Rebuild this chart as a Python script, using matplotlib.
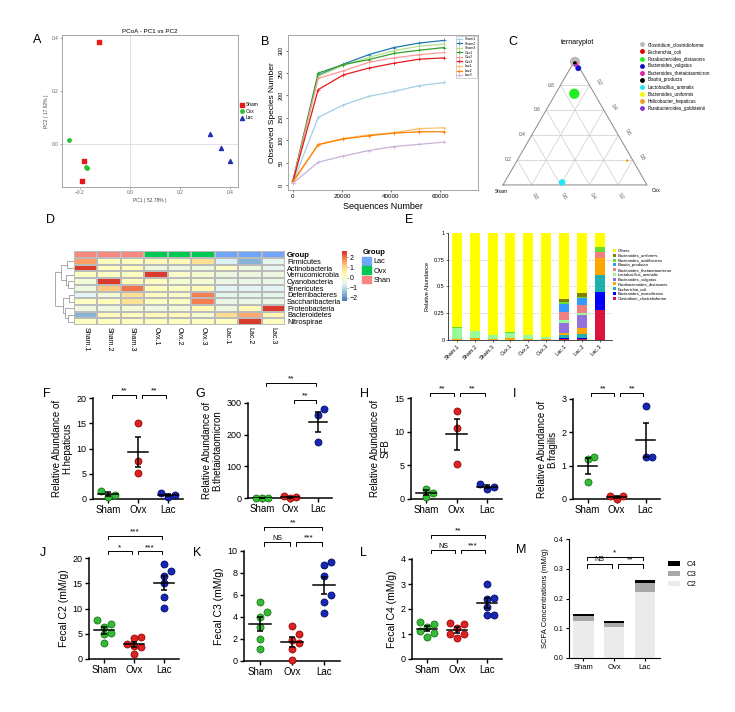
import matplotlib.pyplot as plt
import numpy as np
from matplotlib.colors import LinearSegmentedColormap, Normalize
from matplotlib.lines import Line2D
from matplotlib.patches import Patch

plt.rcParams['font.family'] = ['Liberation Sans', 'DejaVu Sans']

W, H = 735, 712

# ---------------- data ----------------
# A: PCoA
pc1_sham = [-0.124, -0.183, -0.191]
pc2_sham = [0.382, -0.064, -0.138]
pc1_ovx = [-0.242, -0.176, -0.170]
pc2_ovx = [0.015, -0.086, -0.090]
pc1_lac = [0.319, 0.362, 0.399]
pc2_lac = [0.037, -0.012, -0.064]

# B: rarefaction curves
seq_depth = [0, 10300, 20600, 30900, 41200, 51500, 61800]
rare_names = ['Sham1', 'Sham2', 'Sham3', 'Ovx1', 'Ovx2', 'Ovx3', 'Lac1', 'Lac2', 'Lac3']
rare_sham1 = [5, 151, 179, 198, 209, 222, 229]
rare_sham2 = [8, 245, 270, 291, 307, 317, 323]
rare_sham3 = [8, 243, 267, 285, 300, 310, 315]
rare_ovx1 = [10, 250, 269, 280, 294, 301, 307]
rare_ovx2 = [8, 238, 255, 274, 284, 291, 296]
rare_ovx3 = [8, 213, 246, 261, 272, 281, 284]
rare_lac1 = [5, 91, 104, 112, 117, 126, 128]
rare_lac2 = [8, 90, 103, 110, 116, 119, 119]
rare_lac3 = [4, 51, 65, 77, 86, 91, 96]

# C: ternary plot (fractions Lac / Sham / Ovx)
tern_species = ['Clostridium_clostridioforme', 'Escherichia_coli', 'Parabacteroides_distasonis',
                'Bacteroides_vulgatus', 'Bacteroides_thetaiotaomicron', 'Blautia_producta',
                'Lactobacillus_animalis', 'Bacteroides_uniformis', 'Helicobacter_hepaticus',
                'Parabacteroides_goldsteinii']
tern_lac = [0.985, 0.975, 0.73, 0.935, 0.965, 0.975, 0.02, 0.19, 0.195, 0.96]
tern_sham = [0.0075, 0.01, 0.14, 0.01, 0.01, 0.015, 0.58, 0.045, 0.04, 0.02]
tern_ovx = [0.0075, 0.015, 0.13, 0.055, 0.025, 0.01, 0.40, 0.765, 0.765, 0.02]
tern_abund = [55, 8, 55, 18, 8, 6, 22, 2, 3, 3]
tern_colors = ['#BBBBBB', '#E00000', '#22EE22', '#1010CC', '#E020A0', '#000000',
               '#22E5F0', '#F5F500', '#F0A020', '#8833CC']

# D: heatmap (z-scores)
phyla = ['Firmicutes', 'Actinobacteria', 'Verrucomicrobia', 'Cyanobacteria', 'Tenericutes',
         'Deferribacteres', 'Saccharibacteria', 'Proteobacteria', 'Bacteroidetes', 'Nitrospirae']
samples = ['Sham.1', 'Sham.2', 'Sham.3', 'Ovx.1', 'Ovx.2', 'Ovx.3', 'Lac.1', 'Lac.2', 'Lac.3']
sample_group = ['Sham', 'Sham', 'Sham', 'Ovx', 'Ovx', 'Ovx', 'Lac', 'Lac', 'Lac']
heat_z = [
    [1.6, 0.2, 0.2, 0.3, 0.3, 0.9, -0.7, -1.6, -0.5],
    [2.5, 0.2, 0.2, -0.3, -0.3, -0.3, 0.1, -0.3, -0.5],
    [0.1, 0.1, 0.1, 2.5, 0.0, -0.1, -0.3, -0.3, -0.3],
    [-0.2, 2.5, 0.2, 0.1, -0.1, -0.1, -0.4, -0.4, -0.4],
    [-0.3, 1.2, 2.0, 0.2, 0.1, 0.3, -0.6, -0.6, -0.6],
    [-0.6, -0.2, 0.9, 0.1, 0.0, 1.9, -0.5, -0.5, -0.5],
    [0.1, 0.2, 0.9, 0.1, 0.1, 1.9, -0.4, -0.4, -0.4],
    [-0.3, -0.3, -0.2, -0.3, -0.2, 0.3, -0.3, 0.3, 2.5],
    [-1.6, 0.3, 0.2, 0.3, 0.3, -0.1, 1.0, 1.5, 0.4],
    [0.1, 0.1, 0.1, 0.1, 0.1, 0.1, 0.1, 2.5, 0.2],
]
# row clustering (leaf, leaf, height)
row_tree = (((0, 1, 0.35), (2, (3, 4, 0.3), 0.45), 0.7),
            ((5, 6, 0.25), (7, (8, 9, 0.3), 0.5), 0.6), 1.0)

# E: relative abundance (bottom to top)
e_species = ['Clostridium_clostridioforme', 'Bacteroides_massiliensis', 'Escherichia_coli',
             'Parabacteroides_distasonis', 'Bacteroides_vulgatus', 'Lactobacillus_animalis',
             'Bacteroides_thetaiotaomicron', 'Blautia_producta', 'Bacteroides_acidifaciens',
             'Bacteroides_uniformis', 'Others']
e_clostridium = [0, 0, 0, 0, 0, 0, 0.01, 0.01, 0.28]
e_bmass = [0, 0, 0, 0, 0, 0, 0.01, 0.01, 0.17]
e_ecoli = [0, 0, 0, 0, 0, 0, 0.03, 0.04, 0.16]
e_parabact = [0.005, 0.02, 0.01, 0.02, 0.01, 0.005, 0.02, 0.05, 0.16]
e_bvulg = [0, 0, 0, 0, 0, 0, 0.09, 0.12, 0]
e_lacto = [0.11, 0.06, 0.035, 0.05, 0.035, 0.02, 0.03, 0.02, 0]
e_btheta = [0, 0, 0, 0, 0, 0, 0.07, 0.08, 0.05]
e_blautia = [0, 0, 0, 0, 0, 0, 0.08, 0.06, 0]
e_bacid = [0.005, 0.005, 0.005, 0.005, 0.005, 0.005, 0.015, 0.01, 0.05]
e_bunif = [0, 0, 0, 0, 0, 0, 0.025, 0.04, 0]
e_others = [0.88, 0.915, 0.95, 0.925, 0.95, 0.97, 0.62, 0.56, 0.13]
e_colors = ['#DC143C', '#0000FF', '#20B2AA', '#FFA500', '#9370DB', '#98FB98',
            '#F08080', '#3399FF', '#66DD33', '#808000', '#FFFF00']

# F-L: dot plots
groups = ['Sham', 'Ovx', 'Lac']
f_sham, f_ovx, f_lac = [1.6, 0.46, 0.8], [15.1, 7.5, 5.2], [1.25, 0.46, 0.8]
g_sham, g_ovx, g_lac = [0, 0, 0], [6, 1, 2], [281, 262, 177]
h_sham, h_ovx, h_lac = [1.5, 0.35, 0.95], [13.1, 10.5, 5.2], [2.2, 1.5, 1.8]
i_sham, i_ovx, i_lac = [1.25, 1.2, 0.5], [0.1, 0.0, 0.08], [2.8, 1.25, 1.25]
j_sham = [7.7, 6.4, 7.0, 5.1, 4.9, 3.1]
j_ovx = [4.1, 4.4, 3.0, 2.6, 2.4, 1.0]
j_lac = [18.9, 17.5, 16.5, 15.0, 12.3, 10.1]
k_sham = [5.4, 4.5, 4.0, 3.1, 2.0, 1.1]
k_ovx = [3.2, 2.5, 1.9, 1.6, 1.1, 0.1]
k_lac = [9.0, 8.7, 7.7, 6.0, 5.4, 4.4]
l_sham = [1.5, 1.4, 1.3, 1.14, 1.05, 0.88]
l_ovx = [1.41, 1.46, 1.24, 1.0, 1.0, 0.84]
l_lac = [2.99, 2.45, 2.42, 2.1, 1.77, 1.77]

# M: SCFA stacked bars
m_c2 = [0.124, 0.103, 0.223]
m_c3 = [0.018, 0.014, 0.028]
m_c4 = [0.007, 0.006, 0.011]

# ---------------- figure ----------------
fig = plt.figure(figsize=(W / 100, H / 100), dpi=100)


def box(x0, y0, x1, y1):
    return fig.add_axes([x0 / W, 1 - y1 / H, (x1 - x0) / W, (y1 - y0) / H])


def ftext(x, y, s, **kw):
    fig.text(x / W, 1 - y / H, s, **kw)


for lab, x, y in [('A', 33, 40), ('B', 261, 42), ('C', 508, 42), ('D', 46, 220), ('E', 405, 220),
                  ('F', 43, 394), ('G', 195, 394), ('H', 360, 394), ('I', 513, 394),
                  ('J', 40, 553), ('K', 193, 553), ('L', 360, 553), ('M', 516, 550)]:
    ftext(x, y, lab, fontsize=9, va='center')

# ---- A
ax = box(62, 35, 238, 187)
ax.axhline(0, color='#DDDDDD', lw=0.6, zorder=0)
ax.axvline(0, color='#DDDDDD', lw=0.6, zorder=0)
ax.scatter(pc1_sham, pc2_sham, marker='s', s=6, color='#E41A1C', label='Sham')
ax.scatter(pc1_ovx, pc2_ovx, marker='o', s=6, color='#2CC02C', label='Ovx')
ax.scatter(pc1_lac, pc2_lac, marker='^', s=8, color='#1F2FB5', label='Lac')
ax.set_xlim(-0.27, 0.43)
ax.set_ylim(-0.16, 0.41)
ax.set_xticks([-0.2, 0, 0.2, 0.4])
ax.set_yticks([0, 0.2, 0.4])
ax.xaxis.set_major_formatter('{x:.1f}')
ax.yaxis.set_major_formatter('{x:.1f}')
ax.tick_params(labelsize=3.5, colors='#666666', length=1.5, width=0.4, pad=1)
for s in ax.spines.values():
    s.set_color('#999999')
    s.set_linewidth(0.6)
ax.set_title('PCoA - PC1 vs PC2', fontsize=4.5, pad=1.5)
ax.set_xlabel('PC1 ( 52.78% )', fontsize=3.5, labelpad=2, color='#444444')
ax.set_ylabel('PC2 ( 17.92% )', fontsize=3.5, labelpad=2, color='#444444')
ax.legend(loc='center left', bbox_to_anchor=(1.0, 0.5), fontsize=3.5, frameon=False,
          handlelength=0.6, handletextpad=0.3, labelspacing=0.3, borderaxespad=0.2)

# ---- B
ax = box(288, 35, 478, 190)
rare_vals = [rare_sham1, rare_sham2, rare_sham3, rare_ovx1, rare_ovx2, rare_ovx3,
             rare_lac1, rare_lac2, rare_lac3]
pal = plt.cm.Paired(np.arange(9))
for name, vals, c in zip(rare_names, rare_vals, pal):
    ax.plot(seq_depth, vals, color=c, lw=0.9, marker='+', ms=2.5, mew=0.5, label=name)
ax.set_xlim(-2000, 75500)
ax.set_ylim(-11, 335)
ax.set_xticks([0, 20000, 40000, 60000])
ax.set_yticks(range(0, 301, 50))
ax.tick_params(labelsize=4.5, length=1.5, width=0.4, pad=1.5)
plt.setp(ax.get_yticklabels(), rotation=90, va='center', fontsize=4)
for s in ax.spines.values():
    s.set_color('#999999')
    s.set_linewidth(0.6)
ax.set_xlabel('Sequences Number', fontsize=6.5, labelpad=2)
ax.set_ylabel('Observed Species Number', fontsize=6, labelpad=2)
ax.legend(loc='upper right', fontsize=2.5, frameon=True, fancybox=False, edgecolor='#999999',
          handlelength=1.5, labelspacing=0.15, borderpad=0.3, borderaxespad=0.3).get_frame().set_linewidth(0.4)

# ---- C ternary
ax = box(488.6, 40.7, 661.4, 213.8)
ax.set_xlim(-0.1, 1.1)
ax.set_ylim(-0.2, 1.0)
ax.axis('off')
th = np.sqrt(3) / 2
for t in [0.2, 0.4, 0.6, 0.8]:
    ax.plot([t / 2, 1 - t / 2], [t * th, t * th], color='#CCCCCC', lw=0.5)
    ax.plot([t, t + 0.5 * (1 - t)], [0, (1 - t) * th], color='#CCCCCC', lw=0.5)
    ax.plot([1 - t, 0.5 * (1 - t)], [0, (1 - t) * th], color='#CCCCCC', lw=0.5)
    ax.text(t / 2 - 0.04, t * th, f'{t:.1f}', fontsize=3.5, color='#555555', ha='right', va='center')
    ax.text(1 - t / 2 + 0.04, t * th + 0.02, f'{1 - t:.1f}', fontsize=3.5, color='#555555',
            ha='left', va='center', rotation=-60)
    ax.text(t + 0.02, -0.05, f'{1 - t:.1f}', fontsize=3.5, color='#555555',
            ha='center', va='top', rotation=-60)
ax.plot([0, 1, 0.5, 0], [0, 0, th, 0], color='#888888', lw=0.7)
ax.text(-0.01, -0.03, 'Sham', fontsize=3.5, ha='center', va='top')
ax.text(1.03, -0.02, 'Ovx', fontsize=3.5, ha='left', va='top')
tx = np.array(tern_ovx) + 0.5 * np.array(tern_lac)
ty = np.array(tern_lac) * th
ax.scatter(tx, ty, s=tern_abund, c=tern_colors, zorder=3, lw=0)
ftext(578, 43, 'ternaryplot', fontsize=5, ha='center', va='center')
handles = [Line2D([], [], marker='o', ls='', color=c, ms=2.5) for c in tern_colors]
fig.legend(handles, tern_species, loc='upper left', bbox_to_anchor=(640 / W, 1 - 42 / H),
           fontsize=3.3, frameon=False, handlelength=0.8, handletextpad=0.9,
           labelspacing=0.45, borderpad=0, borderaxespad=0)

# ---- D heatmap
heat_cmap = LinearSegmentedColormap.from_list(
    'pheat', ['#4575B4', '#91BFDB', '#E0F3F8', '#FFFFBF', '#FEE090', '#FC8D59', '#D73027'])
hnorm = Normalize(-2.3, 2.6)
group_cols = {'Sham': '#F8877F', 'Ovx': '#00C853', 'Lac': '#6FA6FA'}

ax = box(74, 258, 285, 325)
ax.pcolormesh(np.array(heat_z), cmap=heat_cmap, norm=hnorm, edgecolors='#BBBBBB', linewidth=0.3)
ax.set_xlim(0, len(samples))
ax.set_ylim(len(phyla), 0)
ax.set_xticks(np.arange(len(samples)) + 0.5)
ax.set_xticklabels(samples, rotation=270, fontsize=5)
ax.set_yticks(np.arange(len(phyla)) + 0.5)
ax.set_yticklabels(phyla, fontsize=5.3)
ax.yaxis.tick_right()
ax.tick_params(length=0, pad=1.5)
for s in ax.spines.values():
    s.set_visible(False)

ax = box(74, 251, 285, 258)
ax.pcolormesh(np.arange(len(samples))[None, :],
              cmap=LinearSegmentedColormap.from_list('g', [group_cols[g] for g in sample_group], N=9),
              edgecolors='#BBBBBB', linewidth=0.3)
ax.set_xlim(0, len(samples))
ax.set_xticks([])
ax.set_yticks([0.5])
ax.set_yticklabels(['Group'], fontsize=5.5, fontweight='bold')
ax.yaxis.tick_right()
ax.tick_params(length=0, pad=1.5)
for s in ax.spines.values():
    s.set_visible(False)

ax = box(55, 258, 74, 325)


def draw_tree(node):
    if isinstance(node, int):
        return node + 0.5, 0.0
    left, right, h = node
    y1, h1 = draw_tree(left)
    y2, h2 = draw_tree(right)
    ax.plot([h1, h, h, h2], [y1, y1, y2, y2], color='#888888', lw=0.5)
    return (y1 + y2) / 2, h


draw_tree(row_tree)
ax.set_xlim(1.02, 0)
ax.set_ylim(len(phyla), 0)
ax.axis('off')

cax = box(342, 251, 347, 301)
cax.imshow(np.linspace(2.6, -2.3, 100)[:, None], cmap=heat_cmap, norm=hnorm, aspect='auto',
           extent=[0, 1, -2.3, 2.6])
cax.set_xticks([])
cax.yaxis.tick_right()
cax.set_yticks([-2, -1, 0, 1, 2])
cax.set_yticklabels(['\u22122', '\u22121', '0', '1', '2'], fontsize=5)
cax.tick_params(length=1, width=0.4, pad=1)
for s in cax.spines.values():
    s.set_visible(False)
ftext(363, 253, 'Group', fontsize=5.5, fontweight='bold', va='center')
fig.legend([Patch(color=group_cols[g]) for g in ['Lac', 'Ovx', 'Sham']], ['Lac', 'Ovx', 'Shan'],
           loc='upper left', bbox_to_anchor=(362 / W, 1 - 257 / H), fontsize=5.3, frameon=False,
           handlelength=1.2, handleheight=1.2, handletextpad=0.4, labelspacing=0.15,
           borderpad=0, borderaxespad=0)

# ---- E stacked bars
ax = box(448, 233, 612, 340)
e_vals = [e_clostridium, e_bmass, e_ecoli, e_parabact, e_bvulg, e_lacto, e_btheta,
          e_blautia, e_bacid, e_bunif, e_others]
xs = np.arange(len(samples))
bottom = np.zeros(len(samples))
for name, vals, c in zip(e_species, e_vals, e_colors):
    ax.bar(xs, vals, bottom=bottom, width=0.56, color=c, lw=0, label=name)
    bottom += np.array(vals)
ax.set_xlim(-0.5, 8.7)
ax.set_ylim(0, 1)
ax.set_yticks([0, 0.25, 0.5, 0.75, 1])
ax.set_yticklabels(['0', '0.25', '0.5', '0.75', '1'])
for yv in [0.25, 0.5, 0.75]:
    ax.axhline(yv, color='#CCCCCC', lw=0.5, ls='--', zorder=0)
ax.set_xticks(xs)
ax.set_xticklabels(samples, rotation=45, ha='right', rotation_mode='anchor')
ax.tick_params(labelsize=4, length=1.5, width=0.4, pad=1)
ax.spines[['top', 'right']].set_visible(False)
for s in ['left', 'bottom']:
    ax.spines[s].set_linewidth(0.5)
ax.set_ylabel('Relative Abundance', fontsize=4, labelpad=3)
h_, l_ = ax.get_legend_handles_labels()
fig.legend(h_[::-1], l_[::-1], loc='upper left', bbox_to_anchor=(613 / W, 1 - 249 / H),
           fontsize=3, frameon=False, handlelength=0.8, handleheight=0.7, handletextpad=0.4,
           labelspacing=0.18, borderpad=0, borderaxespad=0)

# ---- F-L dot plots
dot_face = ['#33BB33', '#DD2222', '#1428B4']
dot_edge = ['#116611', '#880000', '#000055']


def swarm(vals, ytop, step=0.23, rad=0.07):
    vals = np.asarray(vals, float)
    xs_ = np.zeros(len(vals))
    placed = []
    for k in np.argsort(vals):
        for off in [0, step, -step, 2 * step, -2 * step]:
            if all(abs(off - xo) >= step * 0.9 or abs(vals[k] - yo) >= rad * ytop for xo, yo in placed):
                break
        xs_[k] = off
        placed.append((off, vals[k]))
    return xs_


def prism_axes(ax, ytop, yticks, ylabel, ylab_fs, brackets, fmt=None):
    ax.set_xlim(-0.5, 2.5)
    ax.set_ylim(0, ytop)
    ax.set_yticks(yticks)
    if fmt:
        ax.yaxis.set_major_formatter(fmt)
    ax.set_xticks(range(3))
    ax.set_xticklabels(groups, fontsize=7)
    ax.tick_params(axis='y', labelsize=6.5)
    ax.tick_params(length=3, width=1, pad=1.5)
    ax.spines[['top', 'right']].set_visible(False)
    for s in ['left', 'bottom']:
        ax.spines[s].set_linewidth(1.1)
    ax.set_ylabel(ylabel, fontsize=ylab_fs, linespacing=1.1, labelpad=3)
    leg = 0.03 * ytop
    for a, b, yb, txt in brackets:
        x1, x2 = a + 0.13, b - 0.07
        ax.plot([x1, x1, x2, x2], [yb - leg, yb, yb, yb - leg], color='k', lw=0.7, clip_on=False)
        ax.text((x1 + x2) / 2, yb + 0.005 * ytop, txt, fontsize=5 if txt == 'NS' else 6,
                ha='center', va='bottom')


def dot_panel(rect, data, ytop, yticks, ylabel, ylab_fs, brackets):
    ax = box(*rect)
    for gi, vals in enumerate(data):
        offs = swarm(vals, ytop)
        ax.scatter(gi + offs, vals, s=26, color=dot_face[gi], edgecolors=dot_edge[gi],
                   linewidths=0.5, zorder=3, clip_on=False)
        m = np.mean(vals)
        se = np.std(vals, ddof=1) / np.sqrt(len(vals))
        ax.plot([gi - 0.33, gi + 0.33], [m, m], color='k', lw=1.1, zorder=4)
        ax.errorbar(gi, m, yerr=se, color='k', lw=1.1, capsize=2.5, capthick=1.1, zorder=4)
    prism_axes(ax, ytop, yticks, ylabel, ylab_fs, brackets)
    return ax


dot_panel((93, 398, 183, 499), [f_sham, f_ovx, f_lac], 20, [0, 5, 10, 15, 20],
          'Relative Abundance of\nH.hepaticus', 7, [(0, 1, 20.6, '**'), (1, 2, 20.6, '**')])
dot_panel((248, 403, 332, 498), [g_sham, g_ovx, g_lac], 300, [0, 100, 200, 300],
          'Relative Abundance of\nB.thetaiotaomicron', 7,
          [(0, 2, 363, '**'), (1, 2, 309, '**')])
dot_panel((411, 398, 502, 499), [h_sham, h_ovx, h_lac], 15, [0, 5, 10, 15],
          'Relative Abundance of\nSFB', 7, [(0, 1, 15.75, '**'), (1, 2, 15.75, '**')])
dot_panel((573, 399, 660, 499), [i_sham, i_ovx, i_lac], 3, [0, 1, 2, 3],
          'Relative Abundance of\nB.fragilis', 7, [(0, 1, 3.17, '**'), (1, 2, 3.17, '**')])
dot_panel((89, 558, 179, 659), [j_sham, j_ovx, j_lac], 20, [0, 5, 10, 15, 20],
          'Fecal C2 (mM/g)', 7.5,
          [(0, 2, 24.3, '***'), (0, 1, 21.3, '*'), (1, 2, 21.3, '***')])
dot_panel((244, 551, 340, 661), [k_sham, k_ovx, k_lac], 10, [0, 2, 4, 6, 8, 10],
          'Fecal C3 (mM/g)', 7.5,
          [(0, 2, 12.2, '**'), (0, 1, 10.8, 'NS'), (1, 2, 10.8, '***')])
dot_panel((412, 559, 502, 659), [l_sham, l_ovx, l_lac], 4, [0, 1, 2, 3, 4],
          'Fecal C4 (mM/g)', 7.5,
          [(0, 2, 4.96, '**'), (0, 1, 4.36, 'NS'), (1, 2, 4.36, '***')])

# ---- M
ax = box(569, 539, 660, 658)
xm = np.arange(3)
ax.bar(xm, m_c2, width=0.66, color='#EBEBEB', lw=0, label='C2')
ax.bar(xm, m_c3, bottom=m_c2, width=0.66, color='#A8A8A8', lw=0, label='C3')
ax.bar(xm, m_c4, bottom=np.add(m_c2, m_c3), width=0.66, color='#000000', lw=0, label='C4')
prism_axes(ax, 0.4, [0, 0.1, 0.2, 0.3, 0.4], 'SCFA Concentrations (mM/g)', 5.5,
           [(0, 2, 0.34, '*'), (0, 1, 0.316, 'NS'), (1, 2, 0.316, '**')], fmt='{x:.1f}')
ax.set_xlim(-0.47, 2.5)
ax.tick_params(axis='y', labelsize=5)
ax.tick_params(axis='x', labelsize=5.5)
ax.tick_params(length=2.5, width=0.8)
for s in ['left', 'bottom']:
    ax.spines[s].set_linewidth(0.8)
h_, l_ = ax.get_legend_handles_labels()
fig.legend(h_[::-1], l_[::-1], loc='upper left', bbox_to_anchor=(668 / W, 1 - 561 / H),
           fontsize=5.5, frameon=False, handlelength=1.6, handleheight=0.7, handletextpad=0.8,
           labelspacing=0.35, borderpad=0, borderaxespad=0)

fig.savefig('out.png', dpi=100)
